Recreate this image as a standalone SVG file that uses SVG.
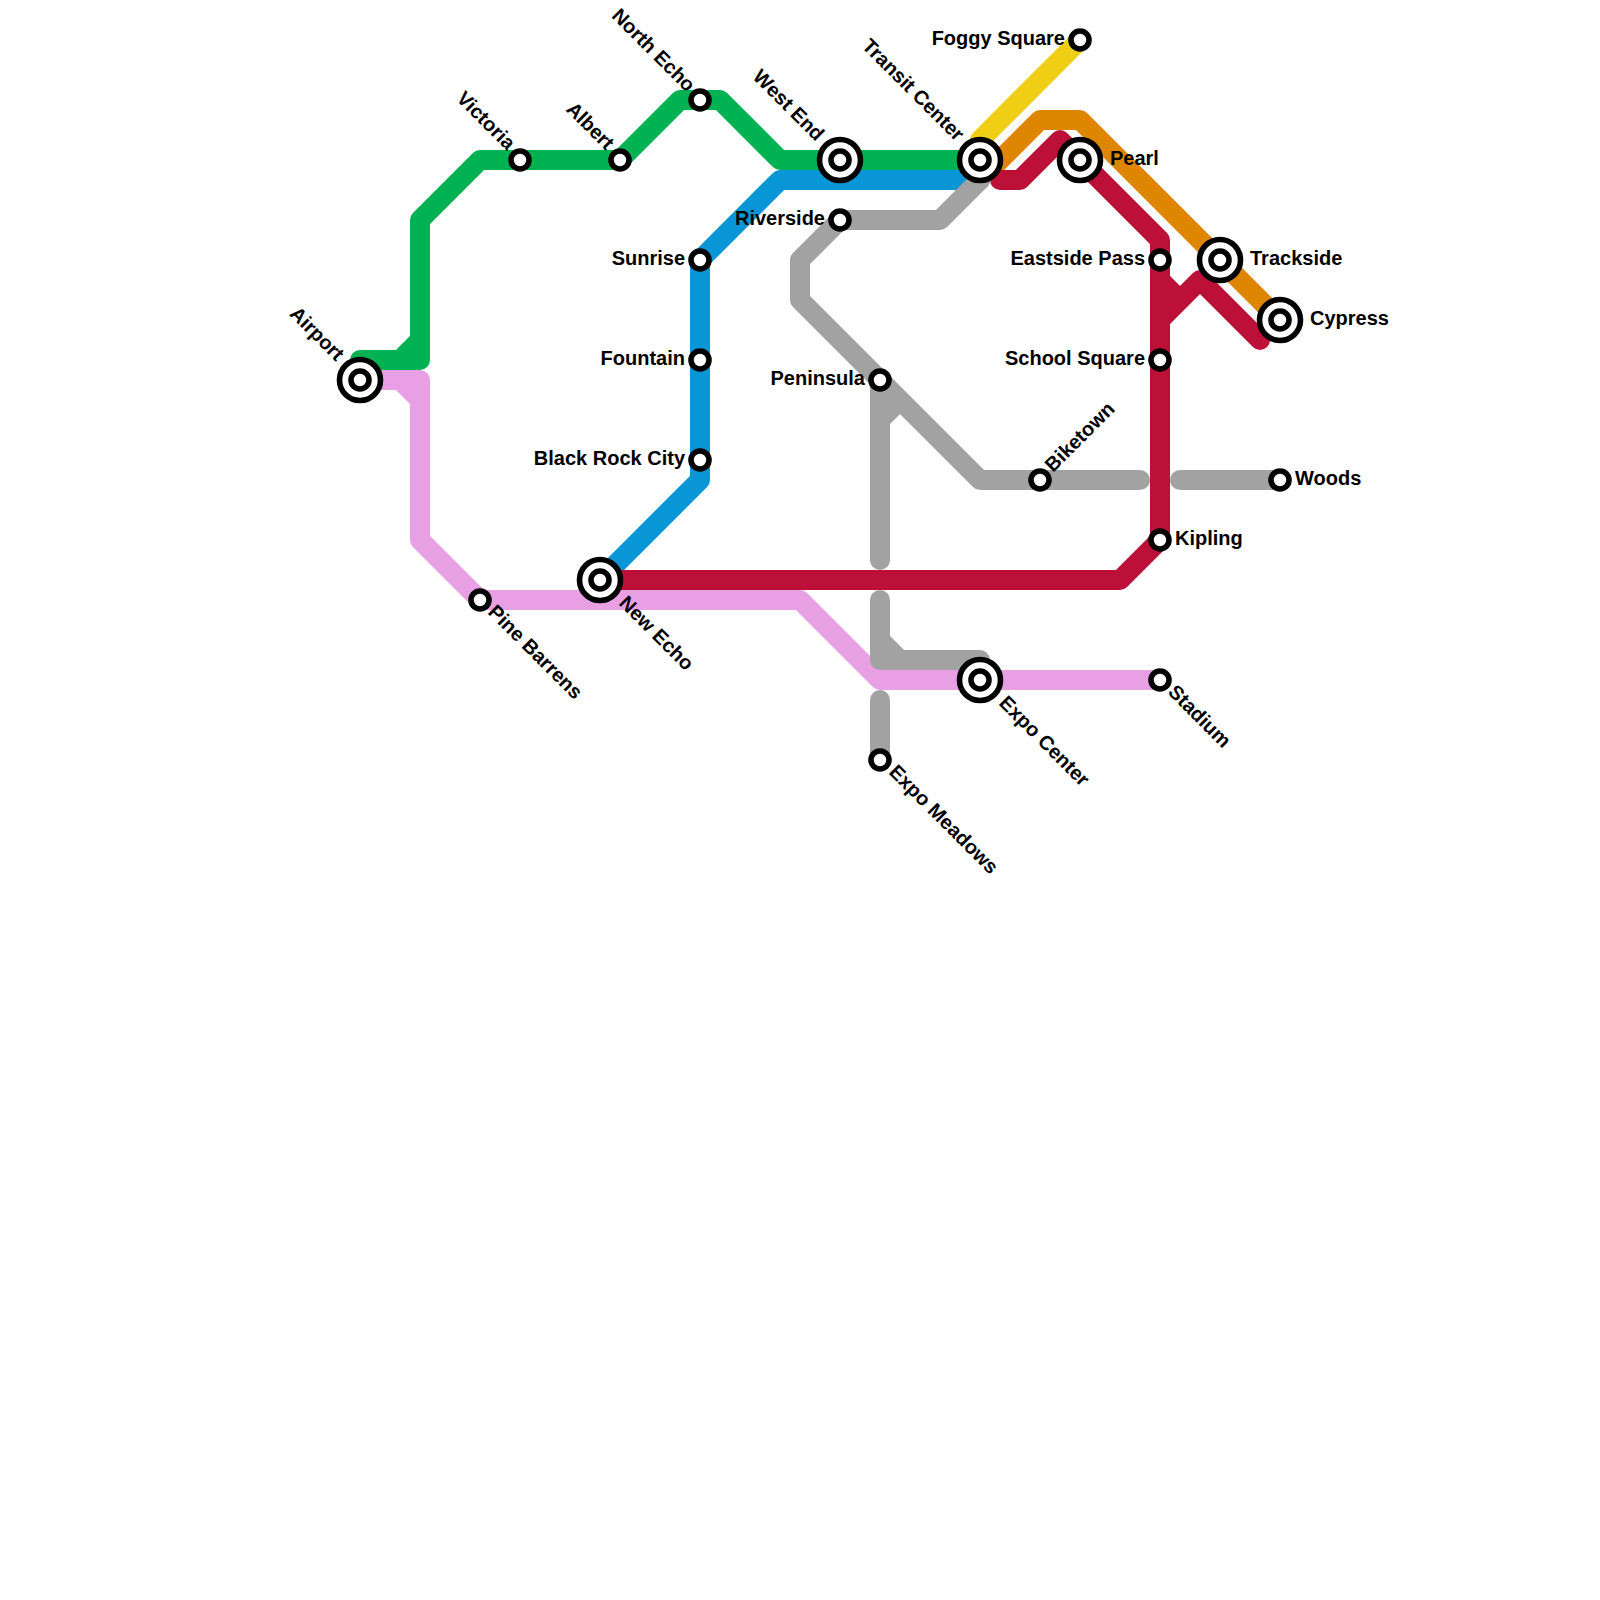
<svg xmlns="http://www.w3.org/2000/svg" width="1600" height="1600" viewBox="0 0 1600 1600">
<style>
.l{fill:none;stroke-width:20;stroke-linecap:round;stroke-linejoin:round}
.o{fill:#fff;stroke:#000;stroke-width:5.6}
text{font-family:"Liberation Sans",Arial,sans-serif;font-weight:700;font-size:20px;fill:#000}
.e{text-anchor:end}
</style>
<rect width="1600" height="1600" fill="#fff"/>
<g id="connectors">
<path class="l" stroke="#f0ce15" d="M980 140L1080 40"/>
<path class="l" stroke="#df8600" d="M990 170L1040 120H1080L1280 320"/>
<path class="l" stroke="#00b251" d="M360 380V360H420V220L480 160H620L680 100H720L780 160H980M400 360L420 340"/>
<path class="l" stroke="#0896d7" d="M600 580L700 480V260L780 180H980"/>
<path class="l" stroke="#e89fe3" d="M360 380H420V540L480 600H800L880 680H1160M400 380L420 400"/>
<path class="l" stroke="#a2a2a2" d="M980 180L940 220H840L800 260V300L980 480H1140M1180 480H1280M880 380V560M880 420L900 400M880 600V660H980M880 640L900 660M880 700V760"/>
<path class="l" stroke="#bd1038" d="M600 580H1120L1160 540V240L1080 160L1060 140L1020 180H1000M1160 280L1180 300M1160 320L1200 280L1260 340"/>
</g>
<g id="airport"><circle class="o" cx="360" cy="380" r="20.5"/><circle class="o" cx="360" cy="380" r="9"/><text class="e" transform="translate(336 362) rotate(45)">Airport</text></g>
<g id="victoria"><circle class="o" cx="520" cy="160" r="9"/><text class="e" transform="translate(507 151) rotate(45)">Victoria</text></g>
<g id="albert"><circle class="o" cx="620" cy="160" r="9"/><text class="e" transform="translate(606 151) rotate(45)">Albert</text></g>
<g id="north-echo"><circle class="o" cx="700" cy="100" r="9"/><text class="e" transform="translate(687 93) rotate(45)">North Echo</text></g>
<g id="west-end"><circle class="o" cx="840" cy="160" r="20.5"/><circle class="o" cx="840" cy="160" r="9"/><text class="e" transform="translate(816 142) rotate(45)">West End</text></g>
<g id="transit-center"><circle class="o" cx="980" cy="160" r="20.5"/><circle class="o" cx="980" cy="160" r="9"/><text class="e" transform="translate(956 142) rotate(45)">Transit Center</text></g>
<g id="foggy-square"><circle class="o" cx="1080" cy="40" r="9"/><text class="e" x="1065" y="45">Foggy Square</text></g>
<g id="pearl"><circle class="o" cx="1080" cy="160" r="20.5"/><circle class="o" cx="1080" cy="160" r="9"/><text x="1110" y="165">Pearl</text></g>
<g id="trackside"><circle class="o" cx="1220" cy="260" r="20.5"/><circle class="o" cx="1220" cy="260" r="9"/><text x="1250" y="265">Trackside</text></g>
<g id="cypress"><circle class="o" cx="1280" cy="320" r="20.5"/><circle class="o" cx="1280" cy="320" r="9"/><text x="1310" y="325">Cypress</text></g>
<g id="eastside-pass"><circle class="o" cx="1160" cy="260" r="9"/><text class="e" x="1145" y="265">Eastside Pass</text></g>
<g id="school-square"><circle class="o" cx="1160" cy="360" r="9"/><text class="e" x="1145" y="365">School Square</text></g>
<g id="kipling"><circle class="o" cx="1160" cy="540" r="9"/><text x="1175" y="545">Kipling</text></g>
<g id="woods"><circle class="o" cx="1280" cy="480" r="9"/><text x="1295" y="485">Woods</text></g>
<g id="biketown"><circle class="o" cx="1040" cy="480" r="9"/><text transform="translate(1053 473) rotate(-45)">Biketown</text></g>
<g id="stadium"><circle class="o" cx="1160" cy="680" r="9"/><text transform="translate(1167 693) rotate(45)">Stadium</text></g>
<g id="expo-center"><circle class="o" cx="980" cy="680" r="20.5"/><circle class="o" cx="980" cy="680" r="9"/><text transform="translate(998 704) rotate(45)">Expo Center</text></g>
<g id="expo-meadows"><circle class="o" cx="880" cy="760" r="9"/><text transform="translate(888 773) rotate(45)">Expo Meadows</text></g>
<g id="peninsula"><circle class="o" cx="880" cy="380" r="9"/><text class="e" x="865" y="385">Peninsula</text></g>
<g id="riverside"><circle class="o" cx="840" cy="220" r="9"/><text class="e" x="825" y="225">Riverside</text></g>
<g id="sunrise"><circle class="o" cx="700" cy="260" r="9"/><text class="e" x="685" y="265">Sunrise</text></g>
<g id="fountain"><circle class="o" cx="700" cy="360" r="9"/><text class="e" x="685" y="365">Fountain</text></g>
<g id="black-rock-city"><circle class="o" cx="700" cy="460" r="9"/><text class="e" x="685" y="465">Black Rock City</text></g>
<g id="new-echo"><circle class="o" cx="600" cy="580" r="20.5"/><circle class="o" cx="600" cy="580" r="9"/><text transform="translate(618 604) rotate(45)">New Echo</text></g>
<g id="pine-barrens"><circle class="o" cx="480" cy="600" r="9"/><text transform="translate(487 613) rotate(45)">Pine Barrens</text></g>
</svg>
